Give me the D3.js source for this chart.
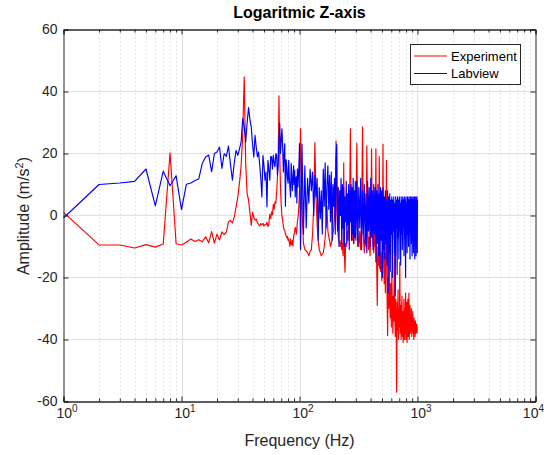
<!DOCTYPE html>
<html>
<head>
<meta charset="utf-8">
<script src="https://cdn.jsdelivr.net/npm/d3@7"></script>
<style>
  body { margin: 0; background: #fff; }
  svg { display: block; font-family: "Liberation Sans", Arial, Helvetica, sans-serif; }
  .tick text { fill: #262626; font-size: 14px; }
  .axis path, .axis line { stroke: #262626; }
</style>
</head>
<body>
<div id="graph"></div>
<script>
// sample frequencies (Hz), shared by both series
var freqHz = [
  1,2,3,4,5,6,7,8,9,10,11,12,13,14,15,16,17,18,19,20,
  21,22,23,24,25,26,27,28,29,30,31,32,33,34,35,36,37,38,39,40,
  41,42,43,44,45,46,47,48,49,50,51,52,53,54,55,56,57,58,59,60,
  61,62,63,64,65,66,67,68,69,70,71,72,73,74,75,76,77,78,79,80,
  81,82,83,84,85,86,87,88,89,90,91,92,93,94,95,96,97,98,99,100,
  102,105,108,111,114,117,120,123,126,129,132,135,138,141,144,147,150,153,156,159,
  162,165,168,171,174,177,180,183,186,189,192,195,198,201,204,207,210,213,216,219,
  222,225,228,231,234,237,240,243,246,249,252,255,258,261,264,267,270,273,276,279,
  282,285,288,291,294,297,
  300,306,312,318,324,330,336,342,348,354,360,366,372,378,384,390,396,402,408,414,
  420,426,432,438,444,450,456,462,468,474,480,486,492,498,504,510,516,522,528,534,
  540,546,552,558,564,570,576,582,588,594,600,606,612,618,624,630,636,642,648,654,
  660,666,672,678,684,690,696,702,708,714,720,726,732,738,744,750,756,762,768,774,
  780,786,792,798,804,810,816,822,828,834,840,846,852,858,864,870,876,882,888,894,
  900,906,912,918,924,930,936,942,948,954,960,966,972,978,984,990,996,1000
];

var ampExperiment = [
  1.0,-9.5,-9.5,-10.5,-9.4,-10.2,-9.2,20.2,-9.1,-9.5,-8.6,-7.6,-8.4,-7.8,-8.5,-6.9,-8.8,-5.2,-8.9,-6.0,
  -7.9,-5.3,-6.2,-5.4,-2.0,-1.6,-2.4,-0.5,2.8,6.0,10.5,16.0,26.0,44.7,16.5,7.0,5.0,1.0,-3.2,1.0,
  -0.6,-1.5,-1.2,-2.4,-2.8,-3.4,-2.6,-3.0,-2.5,-3.4,-2.9,-3.0,-2.2,-3.6,-2.6,0.4,-1.0,1.2,0.2,3.6,
  2.0,4.4,4.0,7.5,12.0,19.0,38.6,20.0,9.0,3.5,-0.2,-1.5,-3.5,-4.6,-4.8,-6.0,-6.5,-7.2,-6.8,-8.0,
  -7.5,-8.8,-10.0,-7.5,-9.0,-9.5,-8.0,-9.8,-7.0,-6.0,-5.0,-3.8,-4.5,-6.0,-4.0,-2.0,-1.0,1.0,4.0,8.0,
  28.0,2.0,-9.0,-11.0,-11.5,-12.0,-13.0,-11.5,-11.0,-6.0,3.0,23.5,6.0,-3.0,-8.0,-11.0,-12.0,-13.0,-12.5,-12.0,
  -10.0,-7.0,-3.0,3.0,-5.0,-7.0,-8.0,-10.0,-9.0,-8.0,-6.0,-4.0,0.0,8.0,24.0,2.0,-4.0,-7.0,-8.0,-9.0,
  -10.0,-8.0,-11.0,-9.0,-13.0,17.0,-12.0,-18.3,-9.0,-10.0,-7.0,-5.0,-8.0,-4.0,2.0,10.0,28.0,5.0,-3.0,-6.0,
  -8.0,-5.0,-9.0,-4.0,-7.0,-2.0,
  -4.0,23.3,-6.0,-10.0,-5.0,-11.0,-2.0,28.6,-7.0,-12.0,-6.0,-10.0,22.5,-4.0,-11.0,-7.0,-13.0,-6.0,21.5,-3.0,
  -9.0,-12.0,-6.0,-10.0,21.5,-14.0,-29.0,-10.0,-16.0,19.0,-8.0,-18.0,-12.0,-21.0,-6.0,23.0,-15.0,-22.0,-12.0,-25.0,
  -10.0,17.8,-26.0,-38.7,-20.0,-30.0,-5.0,-28.0,-33.0,-22.0,-36.0,-18.0,-30.0,-38.0,-26.0,-34.0,-12.0,-31.0,-39.0,-27.0,
  -35.0,-57.0,-28.0,-37.0,-24.0,-40.0,-30.0,-36.0,-15.0,-38.0,-29.0,-40.0,-33.0,-26.0,-39.0,-31.0,-41.0,-34.0,-27.0,-40.0,
  -30.0,-38.0,-25.0,-40.0,-33.0,-28.0,-41.0,-35.0,-27.0,-39.0,-32.0,-25.0,-40.0,-34.0,-29.0,-38.0,-33.0,-37.0,-30.0,-39.0,
  -34.0,-37.0,-31.0,-38.0,-35.0,-40.0,-33.0,-37.0,-35.0,-39.0,-34.0,-38.0,-36.0,-37.0,-35.0,-38.0,-36.0,-36.0
];

var ampLabview = [
  -0.8,10.0,10.5,11.0,15.0,3.1,14.3,9.6,12.8,1.9,10.1,10.5,11.3,11.8,16.8,18.9,19.5,14.1,20.0,20.5,
  22.1,15.2,20.0,19.1,22.4,16.5,11.4,17.0,21.0,19.4,21.5,23.7,31.3,28.6,23.7,30.0,34.8,31.0,28.6,23.0,
  18.9,25.9,22.0,18.9,20.5,16.2,12.0,6.0,19.4,16.0,11.4,14.0,2.8,17.8,15.0,11.4,19.0,18.9,15.0,19.4,
  17.0,15.7,20.0,19.4,13.0,16.2,25.0,29.7,20.0,24.3,28.0,22.0,14.0,20.0,23.2,3.0,18.0,15.7,12.0,10.4,
  17.8,12.0,9.0,6.0,16.8,13.0,8.0,11.4,16.0,10.0,14.6,6.0,12.0,12.5,4.0,15.0,9.2,12.5,17.0,23.2,
  -11.0,23.0,-6.0,16.0,-4.0,12.0,4.0,15.0,8.0,14.0,0.0,13.0,6.0,12.0,-8.0,9.0,-1.0,8.0,-6.0,15.0,
  3.0,17.0,-4.0,10.0,16.0,2.0,13.0,-2.0,14.0,-8.0,10.0,3.0,12.0,-6.0,18.0,23.0,-5.0,9.0,-10.0,8.0,
  0.0,12.0,-9.0,10.0,-4.0,9.0,-10.0,6.0,-2.0,11.0,-9.0,7.0,-3.0,10.0,-11.0,8.0,-2.0,10.0,-8.0,9.0,
  -6.0,12.0,-9.0,8.0,-7.0,11.0,
  -8.0,11.0,-10.0,9.0,-4.0,12.0,-11.0,8.0,-6.0,10.0,-9.0,7.0,-12.0,11.0,-5.0,9.0,-10.0,12.0,-7.0,8.0,
  -11.0,10.0,-6.0,9.0,-15.0,8.0,-9.0,10.0,-13.0,7.0,-17.0,9.0,-8.0,8.0,-20.0,9.0,-11.0,6.0,-14.0,8.0,
  -9.0,5.0,-16.0,8.0,-25.0,6.0,-12.0,7.0,-18.0,5.0,-6.0,6.0,-20.0,5.0,-5.0,6.0,-12.0,4.0,-26.0,6.0,
  -4.0,5.0,-19.0,6.0,-7.0,5.0,-14.0,6.0,-5.0,4.0,-16.0,6.0,-6.0,5.0,-11.0,6.0,-4.0,5.0,-13.0,6.0,
  -7.0,5.0,-20.0,6.0,-5.0,4.0,-12.0,6.0,-6.0,5.0,-10.0,6.0,-4.0,5.0,-14.0,6.0,-6.0,5.0,-9.0,6.0,
  -13.0,5.0,-5.0,6.0,-12.0,5.0,-6.0,6.0,-14.0,5.0,-7.0,6.0,-13.0,5.0,-5.0,6.0,-12.0,5.0
];

var seriesNames = ["Experiment", "Labview"];
var seriesColors = ["#ff0000", "#0000ff"];
var xTicks = [1, 10, 100, 1000, 10000];
var yTicks = [-60, -40, -20, 0, 20, 40, 60];

var W = 544, H = 455;
var svg = d3.select("#graph").append("svg").attr("width", W).attr("height", H);

var x = d3.scaleLog().domain([1, 10000]).range([63.5, 535.5]);
var y = d3.scaleLinear().domain([-60, 60]).range([401.5, 29.5]);

// minor values on the log axis
var minor = [];
for (var d = 1; d < 10000; d *= 10) {
  for (var m = 2; m <= 9; m++) minor.push(d * m);
}

// grid
var grid = svg.append("g");
grid.selectAll("line.minor").data(minor).enter().append("line")
  .attr("x1", function(d){ return Math.round(x(d)) + 0.5; })
  .attr("x2", function(d){ return Math.round(x(d)) + 0.5; })
  .attr("y1", y(60)).attr("y2", y(-60))
  .attr("stroke", "#cfcfcf").attr("stroke-dasharray", "1,3");
grid.selectAll("line.vmaj").data(xTicks.slice(1, 4)).enter().append("line")
  .attr("x1", function(d){ return Math.round(x(d)) + 0.5; })
  .attr("x2", function(d){ return Math.round(x(d)) + 0.5; })
  .attr("y1", y(60)).attr("y2", y(-60))
  .attr("stroke", "#e1e1e1");
grid.selectAll("line.hmaj").data(yTicks.slice(1, 6)).enter().append("line")
  .attr("y1", function(d){ return y(d); })
  .attr("y2", function(d){ return y(d); })
  .attr("x1", x(1)).attr("x2", x(10000))
  .attr("stroke", "#e1e1e1");

// data lines
var pts = freqHz.map(function(f, i){ return i; });
var series = [ampExperiment, ampLabview];
series.forEach(function(vals, k){
  var line = d3.line()
    .x(function(i){ return x(freqHz[i]); })
    .y(function(i){ return y(vals[i]); });
  svg.append("path")
    .attr("d", line(pts))
    .attr("fill", "none")
    .attr("stroke", seriesColors[k])
    .attr("stroke-width", 1.15)
    .attr("stroke-linejoin", "round");
});

// axes
var gx = svg.append("g").attr("class", "axis").attr("transform", "translate(0,401.5)")
  .call(d3.axisBottom(x).tickValues(xTicks).tickSize(-5).tickPadding(7).tickFormat(function(){ return ""; }));
gx.selectAll(".tick text").each(function(d){
  var t = d3.select(this);
  t.text("10");
  t.append("tspan").text(Math.round(Math.log10(d)))
    .attr("font-size", "10px").attr("dy", "-6");
  if (d === 10000) {
    t.attr("text-anchor", "end").attr("dx", "8");
  } else {
    t.attr("text-anchor", "middle").attr("dx", "3");
  }
});
svg.append("g").attr("class", "axis").attr("transform", "translate(0,401.5)")
  .call(d3.axisBottom(x).tickValues(minor).tickSize(-3).tickFormat(""));
svg.append("g").attr("class", "axis").attr("transform", "translate(0,29.5)")
  .call(d3.axisTop(x).tickValues(xTicks).tickSize(-5).tickFormat(""));
svg.append("g").attr("class", "axis").attr("transform", "translate(0,29.5)")
  .call(d3.axisTop(x).tickValues(minor).tickSize(-3).tickFormat(""));
svg.append("g").attr("class", "axis").attr("transform", "translate(63.5,0)")
  .call(d3.axisLeft(y).tickValues(yTicks).tickSize(-5).tickPadding(6)
    .tickFormat(function(d){ return String(d); }));
svg.append("g").attr("class", "axis").attr("transform", "translate(535.5,0)")
  .call(d3.axisRight(y).tickValues(yTicks).tickSize(-5).tickFormat(""));
svg.selectAll(".axis .domain").attr("stroke", "#262626");

// labels
svg.append("text").text("Logaritmic Z-axis")
  .attr("x", 299.5).attr("y", 18).attr("text-anchor", "middle")
  .attr("font-size", "16px").attr("font-weight", "bold").attr("fill", "#000");
svg.append("text").text("Frequency (Hz)")
  .attr("x", 299.5).attr("y", 446).attr("text-anchor", "middle")
  .attr("font-size", "16px").attr("fill", "#262626");
var yl = svg.append("text")
  .attr("transform", "translate(29,216) rotate(-90)")
  .attr("text-anchor", "middle").attr("font-size", "16px").attr("fill", "#262626");
yl.append("tspan").text("Amplitude (m/s");
yl.append("tspan").text("2").attr("font-size", "11px").attr("dy", "-6");
yl.append("tspan").text(")").attr("dy", "6");

// legend
var lg = svg.append("g");
lg.append("rect").attr("x", 410.5).attr("y", 44.5).attr("width", 110).attr("height", 40)
  .attr("fill", "#fff").attr("stroke", "#262626");
seriesNames.forEach(function(name, k){
  var ly = 56 + k * 17.5;
  lg.append("line").attr("x1", 414).attr("x2", 447).attr("y1", ly).attr("y2", ly)
    .attr("stroke", seriesColors[k]);
  lg.append("text").text(name).attr("x", 451).attr("y", ly + 4.5)
    .attr("font-size", "13px").attr("fill", "#000");
});
</script>
</body>
</html>
